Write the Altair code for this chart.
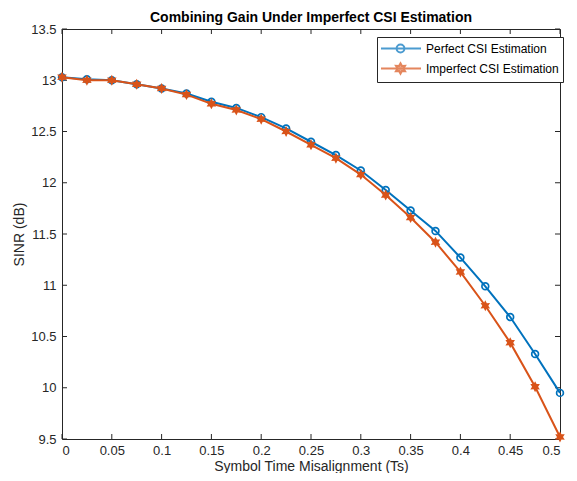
import math
import altair as alt
import pandas as pd

# ---- data ----
x_vals = [0.0, 0.025, 0.05, 0.075, 0.1, 0.125, 0.15, 0.175, 0.2, 0.225, 0.25,
          0.275, 0.3, 0.325, 0.35, 0.375, 0.4, 0.425, 0.45, 0.475, 0.5]
perfect = [13.03, 13.01, 13.00, 12.96, 12.92, 12.87, 12.79, 12.73, 12.64, 12.53, 12.40,
           12.27, 12.12, 11.93, 11.73, 11.53, 11.27, 10.99, 10.69, 10.33, 9.95]
imperfect = [13.03, 13.00, 13.00, 12.96, 12.92, 12.86, 12.77, 12.71, 12.62, 12.50, 12.37,
             12.24, 12.08, 11.88, 11.66, 11.42, 11.13, 10.80, 10.44, 10.01, 9.52]
series_names = ["Perfect CSI Estimation", "Imperfect CSI Estimation"]
x_ticks = [0, 0.05, 0.1, 0.15, 0.2, 0.25, 0.3, 0.35, 0.4, 0.45, 0.5]
y_ticks = [9.5, 10, 10.5, 11, 11.5, 12, 12.5, 13, 13.5]

W, H = 498, 410
BLUE = "#0072BD"
ORANGE = "#D95319"
FONT = "Liberation Sans"
TXT = "#262626"

df = pd.DataFrame({
    "x": x_vals * 2,
    "y": perfect + imperfect,
    "series": [series_names[0]] * len(x_vals) + [series_names[1]] * len(x_vals),
})
xt = pd.DataFrame({"x": x_ticks})
yt = pd.DataFrame({"y": y_ticks})


def hexagram(r_out, r_in, cx=0.0):
    pts = []
    for i in range(12):
        a = -math.pi / 2 + i * math.pi / 6
        r = r_out if i % 2 == 0 else r_in
        pts.append((cx + r * math.cos(a), r * math.sin(a)))
    return "M" + "L".join(f"{px:.3f},{py:.3f}" for px, py in pts) + "Z"


star_marker = hexagram(1.0, 0.55)
# legend glyphs: line segment with the marker in its middle
lx0, lx1 = -1.154, 5.0
mc = 1.846
cr = 0.6
legend_circle = (f"M{lx0},0L{lx1},0M{mc + cr},0A{cr},{cr},0,1,1,{mc - cr},0"
                 f"A{cr},{cr},0,1,1,{mc + cr},0")
legend_star = f"M{lx0},0L{lx1},0" + hexagram(0.8, 0.44, mc)

X = alt.X("x:Q", scale=alt.Scale(domain=[0, 0.5], nice=False, zero=False),
          axis=alt.Axis(values=x_ticks, format="~g", title="Symbol Time Misalignment (Ts)",
                        grid=False, ticks=False, tickSize=0, domain=False,
                        labelPadding=5, titleX=W / 2, titleY=31,
                        titleBaseline="alphabetic", titleAlign="center"))
Y = alt.Y("y:Q", scale=alt.Scale(domain=[9.5, 13.5], nice=False, zero=False),
          axis=alt.Axis(values=y_ticks, format="~g", title="SINR (dB)",
                        grid=False, ticks=False, tickSize=0, domain=False,
                        labelPadding=6, titleX=-39, titleY=H / 2, titleAngle=270,
                        titleBaseline="alphabetic", titleAlign="center"))

base = alt.Chart(df)

blue_line = base.transform_filter(alt.datum.series == series_names[0]).mark_line(
    color=BLUE, strokeWidth=2).encode(x=X, y=Y)
blue_pts = base.transform_filter(alt.datum.series == series_names[0]).mark_point(
    shape="circle", filled=False, size=46, strokeWidth=1.7, color=BLUE, opacity=1).encode(x=X, y=Y)
orange_line = base.transform_filter(alt.datum.series == series_names[1]).mark_line(
    color=ORANGE, strokeWidth=2).encode(x=X, y=Y)
orange_pts = base.transform_filter(alt.datum.series == series_names[1]).mark_point(
    shape=star_marker, filled=True, size=121, color=ORANGE, opacity=1).encode(x=X, y=Y)

leg = alt.Legend(title=None, orient="none", legendX=315, legendY=8,
                 symbolSize=169, symbolStrokeWidth=2, labelOffset=30,
                 labelFont=FONT, labelFontSize=12, labelColor="black",
                 padding=4, rowPadding=2, strokeColor=TXT, fillColor="white",
                 labelLimit=300)
legend_layer = base.transform_filter(alt.datum.x < -1).mark_point(strokeWidth=2).encode(
    x=X, y=Y,
    shape=alt.Shape("series:N", scale=alt.Scale(domain=series_names, range=[legend_circle, legend_star]), legend=leg),
    stroke=alt.Stroke("series:N", scale=alt.Scale(domain=series_names, range=[BLUE, ORANGE]), legend=leg),
    fill=alt.Fill("series:N", scale=alt.Scale(domain=series_names, range=["transparent", ORANGE]), legend=leg),
)

tick_col = TXT
xb = alt.Chart(xt).mark_rule(color=tick_col, strokeWidth=1).encode(x=X, y=alt.value(H), y2=alt.value(H - 5))
xtop = alt.Chart(xt).mark_rule(color=tick_col, strokeWidth=1).encode(x=X, y=alt.value(0), y2=alt.value(5))
yl = alt.Chart(yt).mark_rule(color=tick_col, strokeWidth=1).encode(y=Y, x=alt.value(0), x2=alt.value(5))
yr = alt.Chart(yt).mark_rule(color=tick_col, strokeWidth=1).encode(y=Y, x=alt.value(W), x2=alt.value(W - 5))

chart = alt.layer(
    xb, xtop, yl, yr, blue_line, blue_pts, orange_line, orange_pts, legend_layer
).properties(
    width=W, height=H,
    title=alt.TitleParams("Combining Gain Under Imperfect CSI Estimation", font=FONT,
                          fontSize=14, fontWeight="bold", color="black", offset=-2,
                          anchor="middle"),
    autosize=alt.AutoSizeParams(type="none"),
    padding={"left": 54, "top": 21, "right": 9, "bottom": 34},
).configure_view(stroke=TXT, strokeWidth=1).configure_axis(
    labelFont=FONT, labelFontSize=13, labelColor=TXT,
    titleFont=FONT, titleFontSize=14, titleColor=TXT, titleFontWeight="normal",
)

chart.save("out.html", embed_options={"renderer": "svg", "actions": False})
